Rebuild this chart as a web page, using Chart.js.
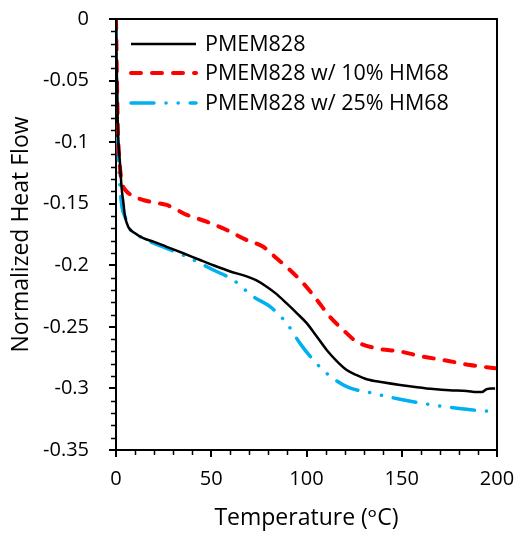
<!DOCTYPE html>
<html>
<head>
<meta charset="utf-8">
<script src="https://cdn.jsdelivr.net/npm/chart.js@4.4.1/dist/chart.umd.min.js"></script>
<style>
  html, body { margin: 0; padding: 0; background: #fff; }
  #wrap { width: 518px; height: 533px; }
</style>
</head>
<body>
<div id="wrap"><canvas id="myChart" width="518" height="533"></canvas></div>
<script>
// data
const seriesNames = ['PMEM828', 'PMEM828 w/ 10% HM68', 'PMEM828 w/ 25% HM68'];

const tempPure = [0, 0.5, 1, 2, 3, 3.8, 4.7, 6.5, 10, 14.3, 20, 26.6, 35, 44.1, 52.8, 60, 68.6, 74, 79.1, 84, 89.6, 95, 100.1, 105, 110.6, 116, 121.1, 126, 131.6, 140, 149.1, 158, 166.6, 175, 184.1, 189.3, 192, 194.6, 197, 199];
const flowPure = [0, -0.05, -0.09, -0.115, -0.138, -0.148, -0.16, -0.169, -0.174, -0.178, -0.181, -0.185, -0.19, -0.1957, -0.201, -0.205, -0.209, -0.2125, -0.2174, -0.223, -0.231, -0.239, -0.247, -0.257, -0.2688, -0.278, -0.285, -0.289, -0.2926, -0.295, -0.2972, -0.299, -0.3005, -0.3015, -0.302, -0.303, -0.303, -0.3005, -0.300, -0.300];

const temp10 = [0, 0.5, 1, 1.8, 2.5, 3.5, 5, 8, 14.3, 20, 26.6, 37.1, 47.6, 58.1, 68.6, 77.3, 84.3, 91.3, 98.3, 105.4, 112.3, 119.3, 126.3, 136.8, 149.1, 159.6, 171.8, 185.8, 199];
const flow10 = [0, -0.05, -0.09, -0.115, -0.127, -0.135, -0.139, -0.143, -0.147, -0.149, -0.151, -0.159, -0.1646, -0.1713, -0.1795, -0.185, -0.1943, -0.2038, -0.2146, -0.228, -0.2418, -0.2526, -0.262, -0.2675, -0.270, -0.2737, -0.2769, -0.281, -0.2836];

const temp25 = [0, 0.3, 0.8, 1.5, 2.3, 3.2, 4.7, 6.5, 10, 16.1, 26.6, 37.1, 51.1, 61.6, 72.1, 80.9, 89.6, 96.6, 103.6, 110.6, 121.1, 135.1, 149.1, 166.6, 184.1, 199];
const flow25 = [0, -0.05, -0.09, -0.12, -0.14, -0.153, -0.1605, -0.1687, -0.174, -0.1795, -0.1862, -0.193, -0.2038, -0.212, -0.2255, -0.2336, -0.2471, -0.2634, -0.277, -0.2877, -0.2986, -0.304, -0.3088, -0.3135, -0.317, -0.319];

const FONT = "'Open Sans', 'DejaVu Sans', sans-serif";

function toPoints(xs, ys) {
    return xs.map((x, i) => ({ x: x, y: ys[i] }));
}

// minor ticks, frame and legend drawn on top
const extrasPlugin = {
    id: 'extras',
    afterDraw(chart) {
        const ctx = chart.ctx;
        const a = chart.chartArea;
        const xs = chart.scales.x;
        const ys = chart.scales.y;
        ctx.save();
        ctx.strokeStyle = '#000';
        ctx.lineWidth = 1.5;
        ctx.beginPath();
        for (let v = 10; v < 200; v += 10) {
            if (v % 50 === 0) continue;
            const px = Math.round(xs.getPixelForValue(v)) + 0.5;
            ctx.moveTo(px, a.bottom);
            ctx.lineTo(px, a.bottom + 5);
        }
        for (let k = 1; k < 35; k++) {
            if (k % 5 === 0) continue;
            const py = Math.round(ys.getPixelForValue(-k / 100)) + 0.5;
            ctx.moveTo(a.left, py);
            ctx.lineTo(a.left - 5, py);
        }
        ctx.stroke();

        // top and right frame
        ctx.lineWidth = 2;
        ctx.beginPath();
        ctx.moveTo(a.left, a.top);
        ctx.lineTo(a.right, a.top);
        ctx.lineTo(a.right, a.bottom);
        ctx.stroke();

        // legend inside plot
        ctx.font = '21.5px ' + FONT;
        ctx.textBaseline = 'middle';
        ctx.fillStyle = '#000';
        const rows = [44, 73, 103];
        chart.data.datasets.forEach((ds, i) => {
            ctx.save();
            ctx.strokeStyle = ds.borderColor;
            ctx.lineWidth = ds.borderWidth;
            ctx.lineCap = ds.borderCapStyle || 'butt';
            ctx.setLineDash(ds.borderDash || []);
            ctx.beginPath();
            ctx.moveTo(131, rows[i]);
            ctx.lineTo(196, rows[i]);
            ctx.stroke();
            ctx.restore();
            ctx.fillText(ds.label, 205, rows[i] + 1);
        });
        ctx.restore();
    }
};

const ctx = document.getElementById('myChart').getContext('2d');
new Chart(ctx, {
    type: 'scatter',
    data: {
        datasets: [
            {
                label: seriesNames[0],
                data: toPoints(tempPure, flowPure),
                showLine: true,
                borderColor: '#000000',
                borderWidth: 2.5,
                pointRadius: 0,
                cubicInterpolationMode: 'monotone'
            },
            {
                label: seriesNames[1],
                data: toPoints(temp10, flow10),
                showLine: true,
                borderColor: '#ff0000',
                borderWidth: 4,
                borderDash: [10, 11],
                borderCapStyle: 'round',
                pointRadius: 0,
                cubicInterpolationMode: 'monotone'
            },
            {
                label: seriesNames[2],
                data: toPoints(temp25, flow25),
                showLine: true,
                borderColor: '#00b0f0',
                borderWidth: 3.5,
                borderDash: [23, 12, 0.1, 12, 0.1, 12],
                borderCapStyle: 'round',
                pointRadius: 0,
                cubicInterpolationMode: 'monotone'
            }
        ]
    },
    options: {
        responsive: false,
        animation: false,
        layout: { padding: { left: 0, top: 19, right: 21, bottom: 0 } },
        plugins: {
            legend: { display: false },
            tooltip: { enabled: false }
        },
        scales: {
            x: {
                type: 'linear',
                min: 0,
                max: 200,
                afterFit: (s) => { s.height = 83; s.paddingLeft = 0; s.paddingRight = 0; },
                afterBuildTicks: (s) => { s.ticks = [0, 50, 100, 150, 200].map(v => ({ value: v })); },
                border: { color: '#000', width: 2 },
                grid: { drawOnChartArea: false, drawTicks: true, tickLength: 7, color: '#000', lineWidth: 2 },
                ticks: { color: '#000', font: { family: FONT, size: 20 }, padding: 10, maxRotation: 0 },
                title: {
                    display: true,
                    text: 'Temperature (ᵒC)',
                    color: '#000',
                    font: { family: FONT, size: 23 },
                    padding: { top: 0, bottom: 1 }
                }
            },
            y: {
                type: 'linear',
                min: -0.35,
                max: 0,
                afterFit: (s) => { s.width = 116; s.paddingTop = 0; s.paddingBottom = 0; },
                afterBuildTicks: (s) => { s.ticks = [0, -0.05, -0.1, -0.15, -0.2, -0.25, -0.3, -0.35].map(v => ({ value: v })); },
                border: { color: '#000', width: 2 },
                grid: { drawOnChartArea: false, drawTicks: true, tickLength: 7, color: '#000', lineWidth: 2 },
                ticks: {
                    color: '#000',
                    font: { family: FONT, size: 20 },
                    padding: 20,
                    callback: (v) => String(parseFloat(v.toFixed(2)))
                },
                title: {
                    display: true,
                    text: 'Normalized Heat Flow',
                    color: '#000',
                    font: { family: FONT, size: 23 },
                    padding: { top: 8, bottom: 0 }
                }
            }
        }
    },
    plugins: [extrasPlugin]
});
</script>
</body>
</html>
